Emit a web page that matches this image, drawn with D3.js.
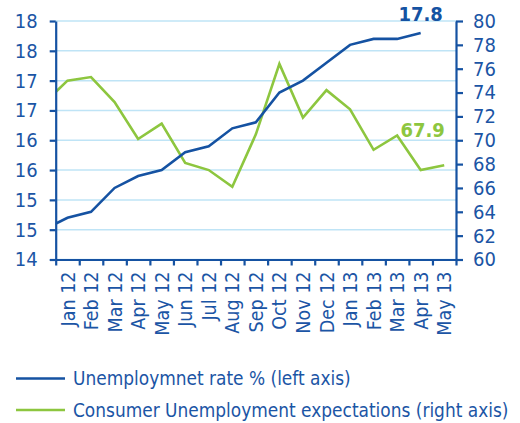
<!DOCTYPE html>
<html>
<head>
<meta charset="utf-8">
<script src="https://cdn.jsdelivr.net/npm/d3@7"></script>
<style>
  body { margin: 0; background: #fff; }
  svg text { font-family: "DejaVu Sans Condensed", "DejaVu Sans", sans-serif; }
</style>
</head>
<body>
<div id="chart"></div>
<script>

// data: first entry of each series is Dec 11 (only its segment shows, clipped)
var prevMonth = "Dec 11";
var months = ["Jan 12","Feb 12","Mar 12","Apr 12","May 12","Jun 12","Jul 12","Aug 12",
  "Sep 12","Oct 12","Nov 12","Dec 12","Jan 13","Feb 13","Mar 13","Apr 13","May 13"];
var unemployment = [14.5, 14.7, 14.8, 15.2, 15.4, 15.5, 15.8, 15.9, 16.2, 16.3,
  16.8, 17.0, 17.3, 17.6, 17.7, 17.7, 17.8, null];
var expectations = [73.1, 75.0, 75.3, 73.2, 70.1, 71.4, 68.1, 67.5, 66.1, 70.5,
  76.4, 71.9, 74.2, 72.6, 69.2, 70.4, 67.5, 67.9];
var leftTicks = [14, 14.5, 15, 15.5, 16, 16.5, 17, 17.5, 18];
var rightTicks = [60, 62, 64, 66, 68, 70, 72, 74, 76, 78, 80];
var legendLabels = ["Unemploymnet rate % (left axis)", "Consumer Unemployment expectations (right axis)"];

var blue = "#1552a2",
    green = "#8dc63f",
    textBlue = "#1b55a5",
    grid = "#bfe4f6";

// setup dimensions
var W = 520, H = 423;
var plotLeft = 55.7, plotRight = 456, plotTop = 21, plotBottom = 259.5;

var svg = d3.select("#chart").append("svg")
  .attr("width", W)
  .attr("height", H);

// scales
var xBand = d3.scaleBand()
  .domain(months)
  .range([plotLeft, plotRight]);
var x = d3.scaleLinear()
  .domain([-0.5, months.length - 0.5])
  .range([plotLeft, plotRight]);
var yL = d3.scaleLinear()
  .domain([14, 18])
  .range([plotBottom, plotTop]);
var yR = d3.scaleLinear()
  .domain([60, 80])
  .range([plotBottom, plotTop]);

// gridlines
svg.append("g").selectAll("line")
  .data(leftTicks)
  .enter().append("line")
  .attr("x1", plotLeft)
  .attr("x2", plotRight)
  .attr("y1", function(d) { return yL(d); })
  .attr("y2", function(d) { return yL(d); })
  .attr("stroke", grid)
  .attr("stroke-width", 1.5);

// clip for lines
svg.append("clipPath").attr("id", "plot")
  .append("rect")
  .attr("x", plotLeft)
  .attr("y", 0)
  .attr("width", plotRight - plotLeft)
  .attr("height", plotBottom);

// index -1 is the previous month
function idx(i) { return i - 1; }

var lineL = d3.line()
  .defined(function(d) { return d != null; })
  .x(function(d, i) { return x(idx(i)); })
  .y(function(d) { return yL(d); });
var lineR = d3.line()
  .x(function(d, i) { return x(idx(i)); })
  .y(function(d) { return yR(d); });

var lines = svg.append("g").attr("clip-path", "url(#plot)");
lines.append("path")
  .datum(expectations)
  .attr("d", lineR)
  .attr("fill", "none")
  .attr("stroke", green)
  .attr("stroke-width", 2.6);
lines.append("path")
  .datum(unemployment)
  .attr("d", lineL)
  .attr("fill", "none")
  .attr("stroke", blue)
  .attr("stroke-width", 2.6);

// axes
function styleAxis(g) {
  g.selectAll("path, line").attr("stroke", blue).attr("stroke-width", 2.2);
  g.selectAll("text").attr("fill", textBlue).style("font-size", "20px");
}

svg.append("g")
  .attr("transform", "translate(" + plotLeft + ",0)")
  .call(d3.axisLeft(yL).tickValues(leftTicks).tickFormat(d3.format(".0f"))
    .tickSize(6).tickSizeOuter(0).tickPadding(12))
  .call(styleAxis);

svg.append("g")
  .attr("transform", "translate(" + plotRight + ",0)")
  .call(d3.axisRight(yR).tickValues(rightTicks).tickSize(7).tickSizeOuter(0).tickPadding(10))
  .call(styleAxis);

// x axis: ticks at band edges
svg.append("g")
  .attr("transform", "translate(0," + plotBottom + ")")
  .call(d3.axisBottom(x).tickValues(d3.range(-0.5, months.length, 1))
    .tickFormat("").tickSize(6).tickSizeOuter(0))
  .call(styleAxis);

// x labels
var xl = svg.append("g")
  .attr("transform", "translate(0," + plotBottom + ")")
  .call(d3.axisBottom(xBand).tickSize(0).tickPadding(0));
xl.select(".domain").remove();
xl.selectAll("text")
  .attr("fill", textBlue)
  .style("font-size", "19.5px")
  .attr("transform", "rotate(-90)")
  .attr("text-anchor", "end")
  .attr("x", -12)
  .attr("y", 0)
  .attr("dy", "0.36em");

// end labels
var last = months.indexOf("Apr 13") + 1;
svg.append("text")
  .attr("x", x(idx(last)))
  .attr("y", yL(unemployment[last]) - 12)
  .attr("text-anchor", "middle")
  .attr("fill", blue)
  .style("font-size", "20px")
  .style("font-weight", "bold")
  .text(d3.format(".1f")(unemployment[last]));
svg.append("text")
  .attr("x", x(idx(last)) + 2)
  .attr("y", yR(expectations[expectations.length - 1]) - 28)
  .attr("text-anchor", "middle")
  .attr("fill", green)
  .style("font-size", "20px")
  .style("font-weight", "bold")
  .text(d3.format(".1f")(expectations[expectations.length - 1]));

// legend
var legend = svg.append("g").selectAll("g")
  .data(legendLabels)
  .enter().append("g")
  .attr("transform", function(d, i) { return "translate(16," + (378.5 + i * 31.5) + ")"; });
legend.append("line")
  .attr("x1", 0)
  .attr("x2", 49)
  .attr("stroke", function(d, i) { return i == 0 ? blue : green; })
  .attr("stroke-width", 2.6);
legend.append("text")
  .attr("x", 57)
  .attr("y", 6.5)
  .attr("fill", textBlue)
  .style("font-size", "18.9px")
  .text(function(d) { return d; });

</script>
</body>
</html>
